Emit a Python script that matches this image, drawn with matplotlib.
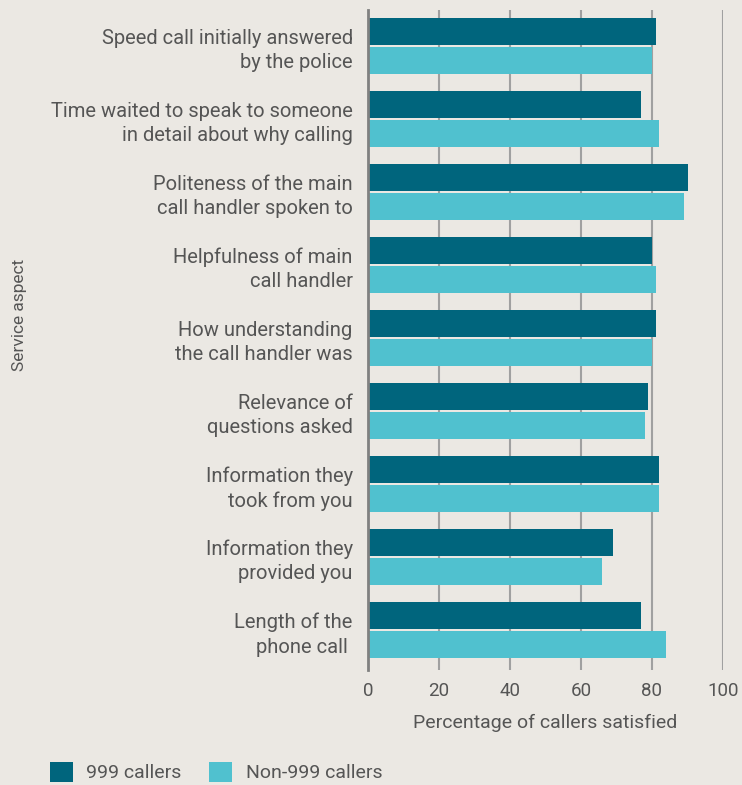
import matplotlib
matplotlib.use("Agg")
import matplotlib.pyplot as plt
import numpy as np
from matplotlib.patches import Patch

categories = [
    "Speed call initially answered\nby the police",
    "Time waited to speak to someone\nin detail about why calling",
    "Politeness of the main\ncall handler spoken to",
    "Helpfulness of main\ncall handler",
    "How understanding\nthe call handler was",
    "Relevance of\nquestions asked",
    "Information they\ntook from you",
    "Information they\nprovided you",
    "Length of the\nphone call ",
]
callers_999 = [81, 77, 90, 80, 81, 79, 82, 69, 77]
callers_non999 = [80, 82, 89, 81, 80, 78, 82, 66, 84]
series_names = ["999 callers", "Non-999 callers"]
xticks = [0, 20, 40, 60, 80, 100]

bg = "#ebe8e3"
dark = "#00657d"
light = "#50c1cf"
txt = "#555555"

plt.rcParams['font.family'] = ['Roboto', 'DejaVu Sans']

fig = plt.figure(figsize=(7.42, 7.85), dpi=100, facecolor=bg)
ax = fig.add_axes([368/742, 1-670/785, (723-368)/742, 660/785])
ax.set_facecolor(bg)

y = np.arange(len(categories))
h = 0.37
off = 0.2
ax.barh(y - off, callers_999, height=h, color=dark, zorder=3, label=series_names[0])
ax.barh(y + off, callers_non999, height=h, color=light, zorder=3, label=series_names[1])

ax.set_xlim(0, 100)
ax.set_ylim(8.55, -0.49)
ax.set_xticks(xticks)
ax.set_xticklabels([str(t) for t in xticks])
ax.set_yticks(y)
ax.set_yticklabels(categories, fontsize=14.5, color=txt, linespacing=1.36)
ax.tick_params(axis='y', length=0, pad=11)
ax.tick_params(axis='x', length=0, pad=9, labelsize=13.5, labelcolor=txt)
ax.grid(axis='x', color='#a0a0a0', linewidth=1.5, zorder=1)
ax.grid(axis='y', visible=False)
for s in ['top', 'right', 'bottom']:
    ax.spines[s].set_visible(False)
ax.spines['left'].set_color('#808080')
ax.spines['left'].set_linewidth(2)
ax.spines['left'].set_zorder(4)

ax.set_xlabel("Percentage of callers satisfied", fontsize=14, color=txt, labelpad=10)
fig.text(20/742, 1-315/785, "Service aspect", rotation=90, fontsize=12.5, color=txt,
         ha='center', va='center')

handles = [Patch(facecolor=dark, edgecolor='none'), Patch(facecolor=light, edgecolor='none')]
fig.legend(handles, series_names, loc='center left', bbox_to_anchor=(32/742, 1-772/785),
           ncol=2, frameon=False, fontsize=14, labelcolor=txt,
           handlelength=1.2, handleheight=1.2, handletextpad=0.7, columnspacing=1.4)

fig.savefig("out.png", dpi=100, facecolor=bg)
